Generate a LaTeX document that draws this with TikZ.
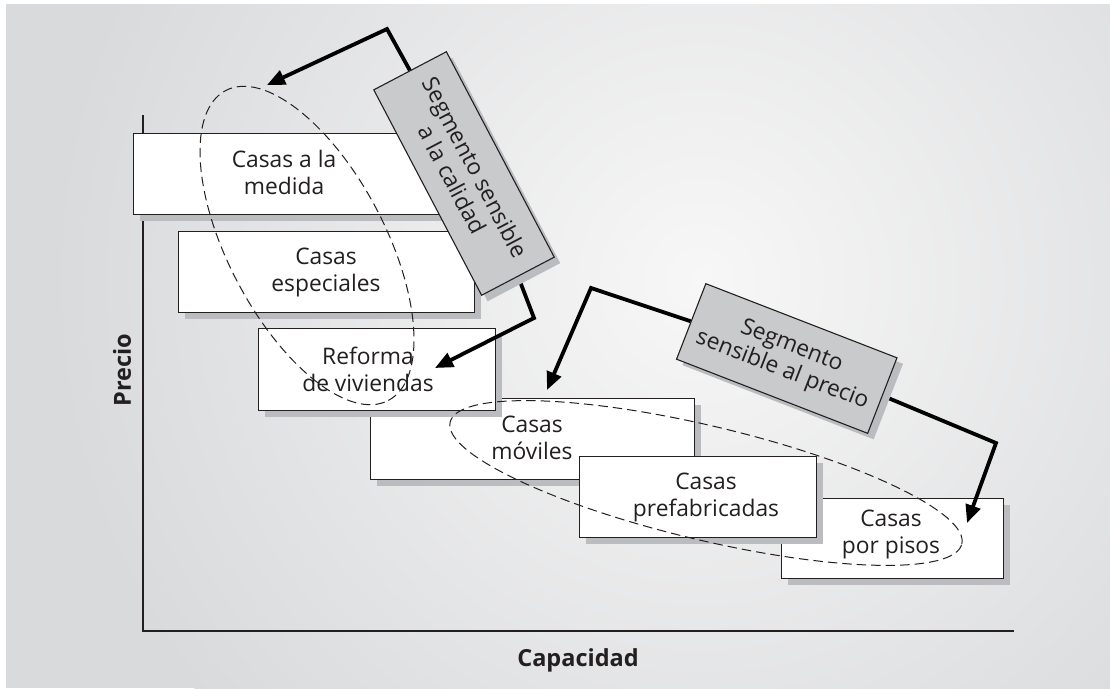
\documentclass[tikz,border=0pt]{standalone}
\usepackage{fontspec}
\setmainfont{Open Sans}
\usetikzlibrary{arrows.meta,shapes.geometric,shadows}
\pgfdeclarelayer{back}
\pgfdeclarelayer{arrowl}
\pgfsetlayers{back,arrowl,main}
\definecolor{bgdark}{HTML}{D9DADC}
\definecolor{bglight}{HTML}{F7F7F7}
\definecolor{ink}{HTML}{231F20}
\definecolor{shadowc}{HTML}{BBBCBF}
\definecolor{segfill}{HTML}{C9CACC}
\tikzset{
  hbox/.style={draw=ink, line width=1.2pt, fill=white, rectangle, inner sep=0pt, anchor=north west,
    drop shadow={shadow xshift=6.5pt, shadow yshift=-6.5pt, opacity=1, fill=shadowc, draw=none}},
  htext/.style={align=center, font=\fontsize{22.8}{27}\selectfont, text=ink, inner sep=0pt},
  segbox/.style={draw=ink, line width=1.1pt, fill=segfill, rectangle, inner sep=0pt, align=center,
    font=\fontsize{22.8}{26}\selectfont, text=ink,
    drop shadow={shadow xshift=6pt, shadow yshift=-6pt, opacity=1, fill=shadowc, draw=none}},
  ring/.style={draw=ink, dash pattern=on 9.5pt off 5pt, line width=1pt, ellipse, inner sep=0pt},
  arr/.style={draw=black, line width=3.8pt, line join=miter, -{Triangle[length=18pt,width=15pt]}},
  axisline/.style={draw=ink, line width=1.3pt},
  axlabel/.style={font=\bfseries\fontsize{23.5}{26}\selectfont, text=ink, inner sep=0pt}
}
\begin{document}
\begin{tikzpicture}[x=1pt,y=-1pt]
\useasboundingbox (0,0) rectangle (1110,688);
\begin{pgfonlayer}{back}
  \fill[white] (0,0) rectangle (1110,688);
  \begin{scope}
    \clip (6,4) rectangle (1110,688);
    \fill[bgdark] (6,4) rectangle (1110,688);
    \shade[inner color=bglight, outer color=bgdark] (700,280) circle (650pt);
  \end{scope}
  % axes
  \coordinate (o) at (143,631);
  \coordinate (ytop) at (143,115);
  \coordinate (xend) at (1014,631);
  \draw[axisline] (ytop) -- (o) -- (xend);
  \node[axlabel, rotate=90] (ylab) at (122,370) {Precio};
  \node[axlabel] (xlab) at (578,660) {Capacidad};
  % boxes
  \node[hbox, minimum width=322pt, minimum height=81pt] (b1) at (133,133) {};
  \node[hbox, minimum width=296pt, minimum height=81pt] (b2) at (178,231) {};
  \node[hbox, minimum width=324pt, minimum height=81pt] (b4) at (370,398) {};
  \node[hbox, minimum width=237pt, minimum height=82pt] (b3) at (258,328) {};
  \node[hbox, minimum width=222pt, minimum height=80pt] (b6) at (781,498) {};
  \node[hbox, minimum width=237pt, minimum height=81pt] (b5) at (579,456) {};
  \node[htext] (t1) at (284,172) {Casas a la\\medida};
  \node[htext] (t2) at (326,272) {Casas\\especiales};
  \node[htext] (t3) at (368,369) {Reforma\\de viviendas};
  \node[htext] (t4) at (532,438) {Casas\\móviles};
  \node[htext] (t5) at (706,497) {Casas\\prefabricadas};
  \node[htext] (t6) at (891,534) {Casas\\por pisos};
  % dashed rings
  \node[ring, minimum width=350pt, minimum height=157pt, rotate=-62.3] (e1) at (307,245.5) {};
  \node[ring, minimum width=526pt, minimum height=114pt, rotate=-13.4] (e2) at (706,483) {};
\end{pgfonlayer}
% segment boxes
\node[segbox, minimum width=232pt, minimum height=82pt, rotate=-62.3] (q1) at (464,173.5) {Segmento sensible\\a la calidad};
\node[segbox, minimum width=205pt, minimum height=81pt, rotate=-21.2] (q2) at (786.75,358.5) {Segmento\\sensible al precio};
\begin{pgfonlayer}{arrowl}
  \coordinate (c1) at (387,29);
  \coordinate (p1) at (267,85);
  \coordinate (c2) at (534,318);
  \coordinate (p2) at (435,368);
  \coordinate (c3) at (591,288);
  \coordinate (p3) at (547,390);
  \coordinate (c4) at (996,443);
  \coordinate (p4) at (967,523);
  \draw[arr] (q1.west) -- (c1) -- (p1);
  \draw[arr] (q1.east) -- (c2) -- (p2);
  \draw[arr] (q2.west) -- (c3) -- (p3);
  \draw[arr] (q2.east) -- (c4) -- (p4);
\end{pgfonlayer}
\end{tikzpicture}
\end{document}
